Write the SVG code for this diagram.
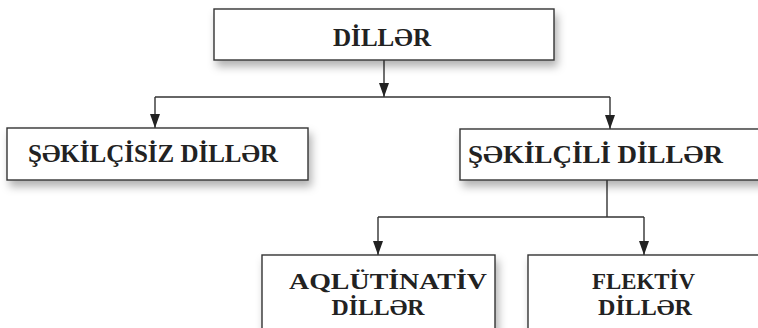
<svg xmlns="http://www.w3.org/2000/svg" width="758" height="328" viewBox="0 0 758 328">
<defs>
<filter id="sh" x="-10%" y="-20%" width="130%" height="160%">
<feDropShadow dx="3" dy="6" stdDeviation="4" flood-color="#000" flood-opacity="0.3"/>
</filter>
<marker id="ah" viewBox="0 0 14 10" refX="14" refY="5" markerWidth="14" markerHeight="10" markerUnits="userSpaceOnUse" orient="auto">
<path d="M0,0 L14,5 L0,10 Z" fill="#222"/>
</marker>
<style>
.box{fill:#fff;stroke:#333;stroke-width:1.4;filter:url(#sh)}
.t{font-family:"Liberation Serif","Times New Roman",serif;font-weight:bold;font-size:26px;fill:#222;text-anchor:middle}
.s{font-size:24px}
.c{fill:none;stroke:#333;stroke-width:1.4}
</style>
</defs>
<g id="connectors">
<line class="c" x1="384" y1="60" x2="384" y2="97" marker-end="url(#ah)"/>
<line class="c" x1="155" y1="97" x2="610" y2="97"/>
<line class="c" x1="155" y1="97" x2="155" y2="128" marker-end="url(#ah)"/>
<line class="c" x1="610" y1="97" x2="610" y2="129" marker-end="url(#ah)"/>
<line class="c" x1="607" y1="180" x2="607" y2="217"/>
<line class="c" x1="378" y1="217" x2="644" y2="217"/>
<line class="c" x1="378" y1="217" x2="378" y2="255" marker-end="url(#ah)"/>
<line class="c" x1="644" y1="217" x2="644" y2="255" marker-end="url(#ah)"/>
</g>
<g id="n-diller">
<rect class="box" x="214" y="9" width="340" height="51"/>
<text class="t" x="382" y="46" textLength="98" lengthAdjust="spacingAndGlyphs">DİLLƏR</text>
</g>
<g id="n-sekilcisiz">
<rect class="box" x="7" y="128" width="301" height="52"/>
<text class="t" x="153" y="162" textLength="250" lengthAdjust="spacingAndGlyphs">ŞƏKİLÇİSİZ DİLLƏR</text>
</g>
<g id="n-sekilcili">
<rect class="box" x="460" y="129" width="310" height="51"/>
<text class="t" x="595.5" y="163" textLength="255" lengthAdjust="spacingAndGlyphs">ŞƏKİLÇİLİ DİLLƏR</text>
</g>
<g id="n-aglutinativ">
<rect class="box" x="262" y="255" width="233" height="90"/>
<text class="t s" x="388" y="289" textLength="198" lengthAdjust="spacingAndGlyphs">AQLÜTİNATİV</text>
<text class="t s" x="378" y="315" textLength="93" lengthAdjust="spacingAndGlyphs">DİLLƏR</text>
</g>
<g id="n-flektiv">
<rect class="box" x="528" y="255" width="250" height="90"/>
<text class="t s" x="643.5" y="289" textLength="103" lengthAdjust="spacingAndGlyphs">FLEKTİV</text>
<text class="t s" x="645" y="315" textLength="94" lengthAdjust="spacingAndGlyphs">DİLLƏR</text>
</g>
</svg>
